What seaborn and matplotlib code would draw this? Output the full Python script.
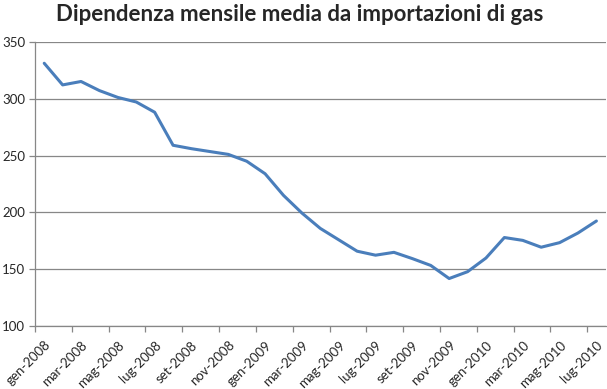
import matplotlib
matplotlib.use("Agg")
import matplotlib.pyplot as plt
import pandas as pd
import seaborn as sns

months = ["gen", "feb", "mar", "apr", "mag", "giu", "lug", "ago", "set", "ott", "nov", "dic"]
periods = [f"{m}-{y}" for y in (2008, 2009, 2010) for m in months][:31]
values = [331, 312, 315, 307, 301, 297, 288, 259, 256, 253.5, 251, 245,
          234, 215, 199.5, 186, 176, 166, 162.5, 165, 159.5, 153.5, 142, 148,
          160, 178, 175.5, 169.5, 173.5, 182, 192.5]

df = pd.DataFrame({"idx": range(len(periods)), "period": periods, "value": values})

sns.set_theme(style="white")
plt.rcParams["font.family"] = ["Lato", "DejaVu Sans"]

fig = plt.figure(figsize=(6.07, 3.89), dpi=100)
ax = fig.add_axes([0.0577, 0.161, 0.94, 0.732])

sns.lineplot(data=df, x="idx", y="value", color="#4A7EBB", linewidth=2.2, ax=ax)

grid_col = "#878787"
ax.set_ylim(100, 350)
ax.set_yticks(range(100, 351, 50))
ax.yaxis.grid(True, color=grid_col, linewidth=0.9)
ax.set_axisbelow(True)
ax.set_xlim(-0.5, len(periods) - 0.5)

# tick marks at category boundaries, labels at category centres
ax.set_xticks([i - 0.5 for i in range(0, len(periods), 2)])
ax.set_xticklabels([])
ax.set_xticks(list(range(0, len(periods), 2)), minor=True)
ax.set_xticklabels(periods[::2], minor=True, rotation=45, ha="right",
                   rotation_mode="anchor", fontsize=9.5)
ax.tick_params(axis="x", which="minor", length=0, pad=9)
ax.tick_params(axis="x", which="major", length=4, width=0.9, color=grid_col, bottom=True)
ax.tick_params(axis="y", length=4, width=0.9, color=grid_col, left=True, labelsize=9.5, pad=3)

for side in ("top", "right"):
    ax.spines[side].set_visible(False)
for side in ("left", "bottom"):
    ax.spines[side].set_color(grid_col)
    ax.spines[side].set_linewidth(0.9)

ax.set_xlabel("")
ax.set_ylabel("")
fig.text(0.494, 0.962, "Dipendenza mensile media da importazioni di gas",
         ha="center", va="center", fontsize=16, fontweight="bold")

fig.savefig("out.png", dpi=100)
